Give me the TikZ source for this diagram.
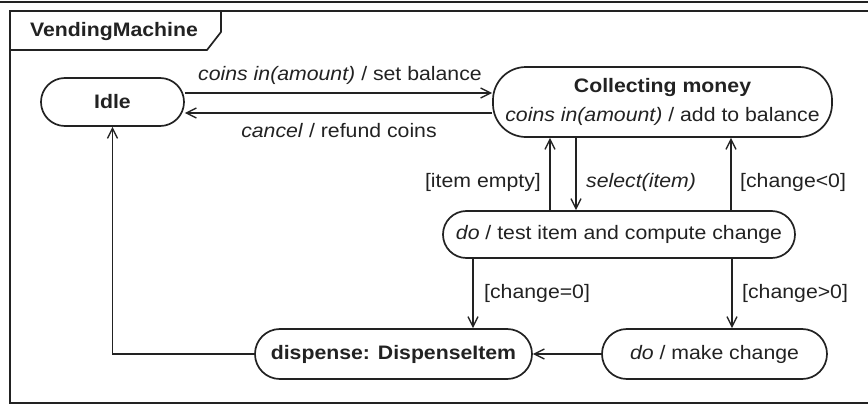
\documentclass[tikz,border=0pt]{standalone}
\usepackage{fontspec}
\setmainfont{Liberation Sans}[FakeStretch=1.09]
\usetikzlibrary{arrows.meta}
\definecolor{ink}{HTML}{222222}
\begin{document}
\begin{tikzpicture}[x=1pt,y=-1pt,
  every node/.style={font=\fontsize{19.5}{23}\selectfont, text=ink},
  state/.style={draw=ink, line width=1.7pt, fill=white, inner sep=0pt, align=center},
  trans/.style={draw=ink, line width=1.7pt, -{Straight Barb[length=10pt,width=10pt,line width=1.4pt]}},
  lbl/.style={inner sep=0pt}]
\clip (0,0) rectangle (868,405);
\fill[white] (0,0) rectangle (868,405);
% frame with its name tag
\draw[ink, line width=1.7pt] (0,2) -- (868,2);
\draw[ink, line width=1.7pt] (10,11) rectangle (885,403);
\draw[ink, line width=1.7pt] (10,50) -- (207,50) -- (221,32) -- (221,11);
\node[font=\bfseries\fontsize{19.5}{23}\selectfont] (title) at (114,31) {VendingMachine};

% states
\node[state, minimum width=143pt, minimum height=48pt, rounded corners=23.9pt] (idle) at (112.5,102) {\bfseries Idle};
\node[state, minimum width=339pt, minimum height=70pt, rounded corners=33pt] (coll) at (662.5,102)
  {{\bfseries Collecting money}\\[6pt]\textit{coins in(amount)} / add to balance};
\node[state, minimum width=352pt, minimum height=47pt, rounded corners=23.4pt] (test) at (619,234.5)
  {\textit{do} / test item and compute change};
\node[state, minimum width=277pt, minimum height=50pt, rounded corners=24.9pt] (disp) at (393.5,354)
  {\bfseries dispense: DispenseItem};
\node[state, minimum width=225pt, minimum height=50pt, rounded corners=24.9pt] (chg) at (714.5,354)
  {\textit{do} / make change};

% vertical transition columns
\coordinate (xa) at (550,0);
\coordinate (xb) at (576,0);
\coordinate (xc) at (731,0);
\coordinate (xd) at (473,0);
\coordinate (xe) at (732,0);

% transitions
\draw[trans] ([yshift=9pt]idle.east) -- ([yshift=9pt]idle.east -| coll.west);
\draw[trans] ([yshift=-11pt]coll.west) -- ([yshift=-11pt]coll.west -| idle.east);
\draw[trans] (test.north -| xa) -- (coll.south -| xa);
\draw[trans] (coll.south -| xb) -- (test.north -| xb);
\draw[trans] (test.north -| xc) -- (coll.south -| xc);
\draw[trans] (test.south -| xd) -- (disp.north -| xd);
\draw[trans] (test.south -| xe) -- (chg.north -| xe);
\draw[trans] (chg.west) -- (disp.east);
\draw[trans] (disp.west) -| (idle.south);

% transition labels
\node[lbl] (t1) at (340,75) {\textit{coins in(amount)} / set balance};
\node[lbl] (t2) at (339,131) {\textit{cancel} / refund coins};
\node[lbl, anchor=east] (t3) at (541,182) {[item empty]};
\node[lbl, anchor=west] (t4) at (586,182) {\textit{select(item)}};
\node[lbl, anchor=west] (t5) at (740,182) {[change<0]};
\node[lbl, anchor=west] (t6) at (484,293) {[change=0]};
\node[lbl, anchor=west] (t7) at (742,293) {[change>0]};
\end{tikzpicture}
\end{document}
